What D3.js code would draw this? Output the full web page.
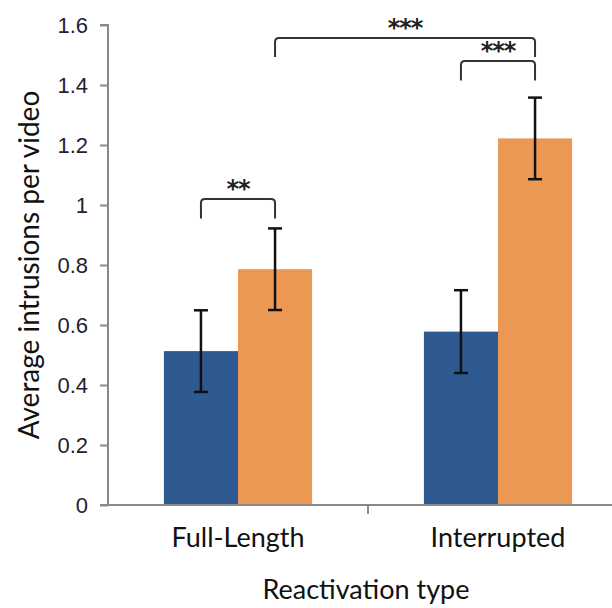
<!DOCTYPE html>
<html>
<head>
<meta charset="utf-8">
<script src="https://cdn.jsdelivr.net/npm/d3@7"></script>
<style>
  body { margin: 0; background: #fff; }
  svg { display: block; }
</style>
</head>
<body>
<div id="chart"></div>
<script>
// data
const categories = ["Full-Length", "Interrupted"];
const series = ["blue", "orange"];
const blueValues = [0.513, 0.578];
const orangeValues = [0.786, 1.222];
const blueErr = [0.136, 0.138];
const orangeErr = [0.136, 0.136];
const yTicks = [0, 0.2, 0.4, 0.6, 0.8, 1, 1.2, 1.4, 1.6];
// significance brackets: [from category, from series, to category, to series, y level, label]
const brackets = [
    {c1: 0, s1: 0, c2: 0, s2: 1, level: 1.02, legTo: 0.955, label: "**"},
    {c1: 1, s1: 0, c2: 1, s2: 1, level: 1.48, legTo: 1.415, label: "***"},
    {c1: 0, s1: 1, c2: 1, s2: 1, level: 1.557, legTo: 1.493, label: "***"}
];

const width = 612, height = 608;
const margin = {top: 25, right: -16, bottom: 103, left: 108};

const svg = d3.select("#chart").append("svg")
    .attr("width", width)
    .attr("height", height);

const plotW = width - margin.left - margin.right;
const plotH = height - margin.top - margin.bottom;

const g = svg.append("g")
    .attr("transform", `translate(${margin.left}, ${margin.top})`);

const yScale = d3.scaleLinear()
    .domain([0, 1.6])
    .range([plotH, 0]);

const xScale = d3.scaleBand()
    .domain(categories)
    .range([0, plotW])
    .paddingInner(0.43)
    .paddingOuter(0.215);

const xSub = d3.scaleBand()
    .domain(series)
    .range([0, xScale.bandwidth()]);

const colors = {blue: "#2f5a91", orange: "#eb9854"};

// bars
const barData = [];
categories.forEach((c, i) => {
    barData.push({cat: c, s: "blue", v: blueValues[i], e: blueErr[i]});
    barData.push({cat: c, s: "orange", v: orangeValues[i], e: orangeErr[i]});
});

g.selectAll(".bar")
    .data(barData)
    .enter()
    .append("rect")
    .attr("class", "bar")
    .attr("x", d => xScale(d.cat) + xSub(d.s))
    .attr("y", d => yScale(d.v))
    .attr("width", xSub.bandwidth())
    .attr("height", d => plotH - yScale(d.v))
    .style("fill", d => colors[d.s]);

// axes
const yAxis = d3.axisLeft(yScale)
    .tickValues(yTicks)
    .tickSize(8)
    .tickPadding(12)
    .tickFormat(d => d3.format("")(+d.toFixed(1)));

const yG = g.append("g").call(yAxis);
yG.select(".domain").attr("stroke", "#8a8a8a").attr("stroke-width", 2)
    .attr("d", `M-8,${yScale(1.6)}H0V${plotH}`);
yG.selectAll(".tick line").attr("stroke", "#8a8a8a").attr("stroke-width", 2);
yG.selectAll(".tick text")
    .style("font-family", "'Liberation Sans', Arial, sans-serif")
    .style("font-size", "22px")
    .style("fill", "#1f2230");

// x axis: line plus tick between categories
const xG = g.append("g").attr("transform", `translate(0, ${plotH})`);
xG.append("line")
    .attr("x1", -8).attr("x2", plotW)
    .attr("y1", 0).attr("y2", 0)
    .attr("stroke", "#8a8a8a").attr("stroke-width", 2);
xG.append("line")
    .attr("x1", plotW / 2).attr("x2", plotW / 2)
    .attr("y1", 0).attr("y2", 9)
    .attr("stroke", "#8a8a8a").attr("stroke-width", 2);

xG.selectAll(".cat-label")
    .data(categories)
    .enter()
    .append("text")
    .attr("class", "cat-label")
    .attr("x", d => xScale(d) + xScale.bandwidth() / 2)
    .attr("y", 42)
    .attr("text-anchor", "middle")
    .style("font-family", "Lato, sans-serif")
    .style("font-size", "27px")
    .style("fill", "#111")
    .text(d => d);

// error bars
const err = g.selectAll(".err")
    .data(barData)
    .enter()
    .append("g")
    .attr("class", "err")
    .attr("transform", d => `translate(${xScale(d.cat) + xSub(d.s) + xSub.bandwidth() / 2}, 0)`);

err.append("line")
    .attr("y1", d => yScale(d.v - d.e))
    .attr("y2", d => yScale(d.v + d.e))
    .attr("stroke", "#111").attr("stroke-width", 2.5);
err.append("line")
    .attr("x1", -7).attr("x2", 7)
    .attr("y1", d => yScale(d.v + d.e)).attr("y2", d => yScale(d.v + d.e))
    .attr("stroke", "#111").attr("stroke-width", 2.5);
err.append("line")
    .attr("x1", -7).attr("x2", 7)
    .attr("y1", d => yScale(d.v - d.e)).attr("y2", d => yScale(d.v - d.e))
    .attr("stroke", "#111").attr("stroke-width", 2.5);

// significance brackets
const cx = (c, s) => xScale(categories[c]) + xSub(series[s]) + xSub.bandwidth() / 2;
const r = 4;
brackets.forEach(b => {
    const x1 = cx(b.c1, b.s1), x2 = cx(b.c2, b.s2);
    const yTop = yScale(b.level), yLeg = yScale(b.legTo);
    g.append("path")
        .attr("d", `M${x1},${yLeg}V${yTop + r}Q${x1},${yTop} ${x1 + r},${yTop}H${x2 - r}Q${x2},${yTop} ${x2},${yTop + r}V${yLeg}`)
        .attr("fill", "none")
        .attr("stroke", "#333")
        .attr("stroke-width", 2);
    g.append("text")
        .attr("x", (x1 + x2) / 2)
        .attr("y", yTop - 2)
        .attr("text-anchor", "middle")
        .style("font-family", "'DejaVu Sans', sans-serif")
        .style("font-weight", "bold")
        .style("font-size", "24px")
        .style("letter-spacing", "-1px")
        .style("fill", "#222")
        .text(b.label);
});

// axis titles
svg.append("text")
    .attr("transform", `translate(39, 265) rotate(-90)`)
    .attr("text-anchor", "middle")
    .style("font-family", "Lato, sans-serif")
    .style("font-size", "28px")
    .style("fill", "#111")
    .text("Average intrusions per video");

svg.append("text")
    .attr("x", 366)
    .attr("y", 599)
    .attr("text-anchor", "middle")
    .style("font-family", "Lato, sans-serif")
    .style("font-size", "27px")
    .style("fill", "#111")
    .text("Reactivation type");
</script>
</body>
</html>
